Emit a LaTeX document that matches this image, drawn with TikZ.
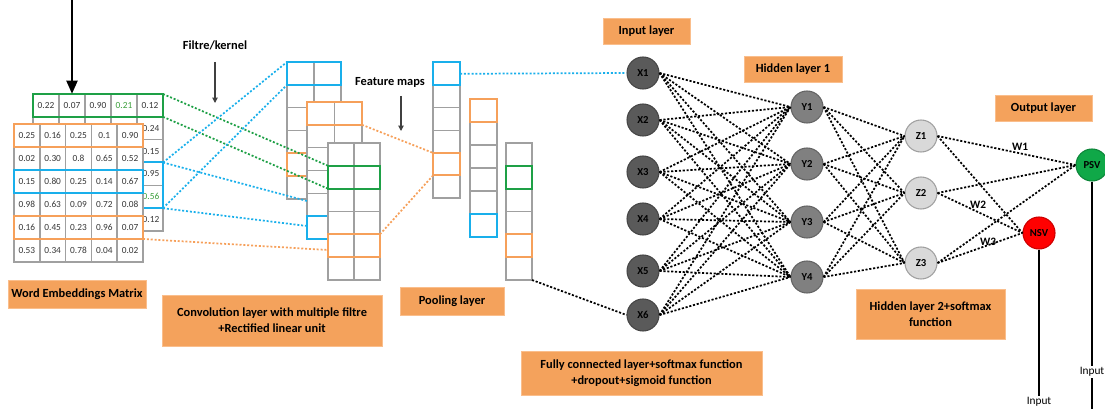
\documentclass[tikz,border=0pt]{standalone}
\usepackage{fontspec}
\setmainfont{Carlito}
\usetikzlibrary{arrows.meta,fit,calc}

\definecolor{tagfill}{RGB}{244,162,92}
\definecolor{tagedge}{RGB}{250,190,140}
\definecolor{gridc}{RGB}{160,160,160}
\definecolor{numc}{RGB}{55,55,55}
\definecolor{numgreen}{RGB}{60,160,60}
\definecolor{hlgreen}{RGB}{30,160,70}
\definecolor{hlblue}{RGB}{25,175,235}
\definecolor{hlorange}{RGB}{246,160,90}
\definecolor{xfill}{RGB}{90,90,90}
\definecolor{xdraw}{RGB}{70,70,70}
\definecolor{yfill}{RGB}{128,128,128}
\definecolor{ydraw}{RGB}{100,100,100}
\definecolor{zfill}{RGB}{217,217,217}
\definecolor{zdraw}{RGB}{160,160,160}
\definecolor{psvfill}{RGB}{16,168,72}
\definecolor{nsvfill}{RGB}{255,0,0}

% grid of cells: left, top, columns, rows, cell width, cell height
\newcommand\cellgrid[6]{%
  \filldraw[gridline, fill=white] (#1,#2) rectangle ({#1+#3*#5},{#2+#4*#6});
  \ifnum#3>1
    \foreach \c in {2,...,#3}
      \draw[gridline] ({#1+(\c-1)*#5},#2) -- ++(0,{#4*#6});
  \fi
  \foreach \r in {2,...,#4}
    \draw[gridline] (#1,{#2+(\r-1)*#6}) -- ++({#3*#5},0);
}
% coloured filter window: name, colour, corners
\newcommand\hlbox[6]{%
  \node[hl, draw=#2, fit={(#3,#4) (#5,#6)}] (#1) {};
}

\begin{document}
\begin{tikzpicture}[x=0.75pt,y=-0.75pt,
  gridline/.style={draw=gridc, line width=1.1pt},
  num/.style={font=\fontsize{7}{8}\selectfont, text=numc, inner sep=0},
  hl/.style={rectangle, inner sep=0, outer sep=0, line width=1.5pt},
  tag/.style={rectangle, fill=tagfill, draw=tagedge, line width=0.5pt,
    font=\bfseries\fontsize{9.3}{12}\selectfont, align=center, inner sep=0},
  note/.style={font=\bfseries\fontsize{9.3}{10}\selectfont, inner sep=0},
  clink/.style={line width=1.3pt, dash pattern=on 1.5pt off 1.4pt},
  link/.style={line width=1.3pt, dash pattern=on 1.6pt off 1.3pt, black},
  neuron/.style={circle, minimum size=24pt, inner sep=0, line width=0.8pt,
    font=\bfseries\fontsize{8}{9}\selectfont},
  xn/.style={neuron, fill=xfill, draw=xdraw},
  yn/.style={neuron, fill=yfill, draw=ydraw},
  zn/.style={neuron, fill=zfill, draw=zdraw},
  wlab/.style={font=\bfseries\fontsize{8.5}{9}\selectfont, inner sep=0},
  stem/.style={line width=1.8pt, black},
  inlab/.style={font=\fontsize{8.5}{9}\selectfont, inner sep=1pt}
]
\useasboundingbox (0,0) rectangle (1105,409);

% ---------------- word embeddings (back sheet) ----------------
\cellgrid{33}{94}{5}{6}{26}{22.83}
\foreach \v [count=\c] in {0.22,0.07,0.90,\textcolor{numgreen}{0.21},0.12}
  \node[num] (b-1-\c) at ({33+(\c-0.5)*26},105.4) {\v};
\foreach \v [count=\r from 2] in {0.24,0.15,0.95,\textcolor{numgreen}{0.56},0.12}
  \node[num] (b-\r-5) at (151,{94+(\r-0.5)*22.83}) {\v};
\hlbox{wg}{hlgreen}{33}{94}{163}{116.8}
\hlbox{wb}{hlblue}{33}{162.5}{163}{208.2}

% ---------------- word embeddings (front sheet) ----------------
\cellgrid{14}{124}{5}{6}{25.8}{23}
\foreach \row [count=\r] in {{0.25,0.16,0.25,0.1,0.90},{0.02,0.30,0.8,0.65,0.52},
    {0.15,0.80,0.25,0.14,0.67},{0.98,0.63,0.09,0.72,0.08},
    {0.16,0.45,0.23,0.96,0.07},{0.53,0.34,0.78,0.04,0.02}}
  \foreach \v [count=\c] in \row
    \node[num] (f-\r-\c) at ({14+(\c-0.5)*25.8},{124+(\r-0.5)*23}) {\v};
\hlbox{fo1}{hlorange}{14}{124}{143}{147}
\hlbox{fb}{hlblue}{14}{170}{143}{193}
\hlbox{fo2}{hlorange}{14}{216}{143}{239}

% ---------------- convolution feature maps ----------------
\cellgrid{287}{62}{2}{6}{27}{22.83}
\hlbox{ab}{hlblue}{287}{62}{341}{84.8}
\hlbox{ao}{hlorange}{287}{153.3}{341}{176.2}

\cellgrid{307}{102}{2}{6}{27.5}{22.83}
\hlbox{bo}{hlorange}{307}{102}{362}{124.8}
\hlbox{bb}{hlblue}{307}{216.2}{362}{239}

\cellgrid{328}{143}{2}{6}{26}{22.83}
\hlbox{cg}{hlgreen}{328}{165.8}{380}{188.7}
\hlbox{co}{hlorange}{328}{234.3}{380}{257.2}

% ---------------- pooled columns ----------------
\cellgrid{433}{62.5}{1}{6}{27}{22.6}
\hlbox{p1b}{hlblue}{433}{62.5}{460}{85.1}
\hlbox{p1o}{hlorange}{433}{152.9}{460}{175.5}

\cellgrid{470}{99}{1}{6}{27}{23}
\hlbox{p2o}{hlorange}{470}{99}{497}{122}
\hlbox{p2b}{hlblue}{470}{214}{497}{237}

\cellgrid{506}{143}{1}{6}{26}{22.83}
\hlbox{p3g}{hlgreen}{506}{165.8}{532}{188.7}
\hlbox{p3o}{hlorange}{506}{234.3}{532}{257.2}
\coordinate (p3end) at (532,280);

% ---------------- filter connectors ----------------
\coordinate (bin1) at (307,201);
\coordinate (bin2) at (307,226);
\coordinate (cin) at (328,250);
\draw[clink, hlgreen] (wg.north east) -- (cg.north west);
\draw[clink, hlgreen] (wg.south east) -- (cg.south west);
\draw[clink, hlblue] (wb.north east) -- (ab.north west);
\draw[clink, hlblue] (wb.south east) -- (ab.south west);
\draw[clink, hlblue] (wb.north east) -- (bin1);
\draw[clink, hlblue] (wb.south east) -- (bin2);
\draw[clink, hlorange] (fo2.south east) -- (cin);
\draw[clink, hlorange] (bo.south east) -- (p1o.north west);
\draw[clink, hlorange] (co.north east) -- (p1o.south west);

% ---------------- captions and pointers ----------------
\coordinate (topin) at (72,0);
\draw[line width=2.2pt, -{Triangle[width=8pt,length=10pt]}] (topin) -- (wg.north -| topin);
\node[note] (filtre) at (215,45) {Filtre/kernel};
\coordinate (fk) at (215,103);
\draw[line width=0.8pt, draw=black!75, -{Triangle[width=4pt,length=4pt]}] ([yshift=-9pt]filtre.south) -- (fk);
\node[note] (fmaps) at (390,82) {Feature maps};
\coordinate (fm) at (401,131);
\draw[line width=0.8pt, draw=black!75, -{Triangle[width=4pt,length=4pt]}] (401,96) -- (fm);

\node[tag, minimum width=138*0.75pt, minimum height=28*0.75pt] (t1) at (77,294) {Word Embeddings Matrix};
\node[tag, minimum width=220*0.75pt, minimum height=51*0.75pt] (t2) at (272,320.5)
  {Convolution layer with multiple filtre\\+Rectified linear unit};
\node[tag, minimum width=104*0.75pt, minimum height=28*0.75pt] (t3) at (452,301) {Pooling layer};
\node[tag, minimum width=241*0.75pt, minimum height=44*0.75pt] (t4) at (641.5,373)
  {Fully connected layer+softmax function\\+dropout+sigmoid function};
\node[tag, minimum width=87*0.75pt, minimum height=26*0.75pt] (t5) at (646.5,31) {Input layer};
\node[tag, minimum width=98*0.75pt, minimum height=26*0.75pt] (t6) at (793,69) {Hidden layer 1};
\node[tag, minimum width=97*0.75pt, minimum height=26*0.75pt] (t7) at (1043.5,108) {Output layer};
\node[tag, minimum width=149*0.75pt, minimum height=50*0.75pt] (t8) at (930.5,314)
  {Hidden layer 2+softmax\\function};

% ---------------- fully connected network ----------------
\foreach \y [count=\i] in {73,120,172,219,271,315}
  \node[xn] (X\i) at (643,\y) {X\i};
\foreach \y [count=\i] in {107,164,222,277}
  \node[yn] (Y\i) at (807,\y) {Y\i};
\foreach \y [count=\i] in {136,193,263}
  \node[zn] (Z\i) at (921,\y) {Z\i};
\node[neuron, fill=psvfill, draw=psvfill!80!black] (PSV) at (1092,165) {PSV};
\node[neuron, fill=nsvfill, draw=nsvfill!80!black] (NSV) at (1039,233) {NSV};

\draw[clink, hlblue] (p1b.east) -- (X1.west);
\draw[link] (p3end) -- (X6.west);

\foreach \i in {1,...,6}
  \foreach \j in {1,...,4}
    \draw[link] (X\i.east) -- (Y\j.west);
\foreach \i in {1,...,4}
  \foreach \j in {1,...,3}
    \draw[link] (Y\i.east) -- (Z\j.west);
\foreach \i in {1,...,3}{
  \draw[link] (Z\i.east) -- (PSV.west);
  \draw[link] (Z\i.east) -- (NSV.west);
}
\node[wlab] (w1) at (1020,147) {W1};
\node[wlab] (w2) at (978,205) {W2};
\node[wlab] (w3) at (988,242) {W3};

% ---------------- output stems ----------------
\node[inlab, anchor=south] (nsvin) at (1039,408) {Input};
\draw[stem] (NSV.south) -- (nsvin.north);
\node[inlab] (psvin) at (1092,372) {Input};
\coordinate (psvend) at (1092,409);
\draw[stem] (PSV.south) -- (psvin.north);
\draw[stem] (psvin.south) -- (psvend);
\end{tikzpicture}
\end{document}
